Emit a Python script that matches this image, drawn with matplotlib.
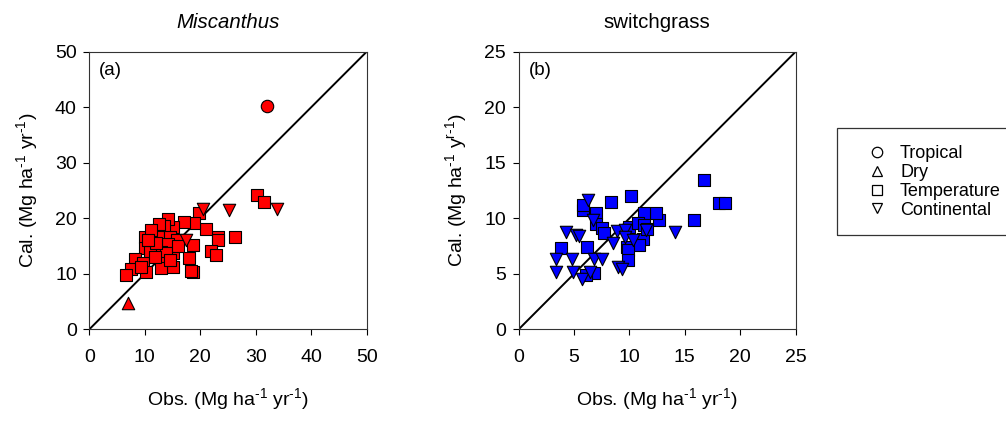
import matplotlib.pyplot as plt
from matplotlib.lines import Line2D
from matplotlib.patches import Rectangle

plt.rcParams['font.family'] = ['Liberation Sans', 'DejaVu Sans']
plt.rcParams['mathtext.fontset'] = 'custom'
plt.rcParams['mathtext.rm'] = 'Liberation Sans'
plt.rcParams['mathtext.it'] = 'Liberation Sans:italic'
plt.rcParams['mathtext.default'] = 'regular'

# Miscanthus (a)
mis_temp_obs = [30.3, 31.4, 19.8, 26.3, 23.2, 23.2, 21.9, 22.8, 21.0, 18.7, 18.0, 18.6, 18.9, 17.1, 15.1, 14.1,
                13.5, 12.6, 10.0, 12.4, 14.5, 15.8, 10.0, 11.5, 13.9, 14.2, 13.0, 10.9, 15.1, 13.8, 8.2, 9.7,
                13.3, 15.1, 13.0, 10.3, 7.6, 6.6, 18.4, 11.2, 11.8, 9.3, 12.0, 16.0, 14.6, 10.5]
mis_temp_cal = [24.1, 22.9, 20.9, 16.7, 16.7, 16.0, 14.1, 13.3, 18.0, 15.1, 12.8, 10.4, 19.1, 19.3, 18.5, 19.8,
                18.6, 19.0, 16.7, 16.7, 16.7, 16.1, 14.6, 15.2, 14.9, 15.3, 14.0, 14.0, 13.7, 13.7, 12.6, 11.9,
                12.0, 11.3, 11.0, 10.4, 10.8, 9.8, 10.5, 17.9, 13.1, 11.3, 15.5, 15.0, 12.5, 16.0]
mis_cont_obs = [20.5, 25.1, 33.9, 17.4]
mis_cont_cal = [21.6, 21.5, 21.6, 16.1]
mis_trop_obs = [32.0]
mis_trop_cal = [40.2]
mis_dry_obs = [7.0]
mis_dry_cal = [4.7]

# switchgrass (b)
sw_temp_obs = [16.7, 18.1, 18.6, 15.8, 12.7, 12.4, 11.3, 10.1, 8.3, 5.8, 5.8, 6.95, 7.0, 7.5, 7.7, 10.0,
               10.8, 11.3, 11.2, 10.9, 9.75, 9.9, 9.9, 6.2, 3.8, 6.8, 6.1, 11.6]
sw_temp_cal = [13.45, 11.35, 11.35, 9.85, 9.8, 10.45, 10.45, 12.0, 11.5, 10.75, 11.2, 10.45, 9.5, 9.1, 8.65, 9.25,
               9.55, 9.4, 8.1, 7.6, 7.45, 7.1, 6.25, 7.4, 7.3, 5.05, 4.85, 9.0]
sw_cont_obs = [14.1, 6.3, 6.7, 4.3, 5.2, 5.4, 8.5, 8.9, 9.6, 9.6, 10.35, 11.5, 9.0, 9.35, 3.4, 4.8,
               6.8, 7.5, 3.35, 4.9, 5.7, 6.4]
sw_cont_cal = [8.8, 11.6, 9.85, 8.8, 8.5, 8.4, 7.75, 8.85, 8.95, 8.3, 8.05, 8.9, 5.65, 5.4, 6.35, 6.35,
               6.35, 6.35, 5.2, 5.15, 4.5, 5.2]

legend_labels = ['Tropical', 'Dry', 'Temperature', 'Continental']
legend_markers = ['o', '^', 's', 'v']

fig = plt.figure(figsize=(10.06, 4.21), dpi=100)
ax1 = fig.add_axes([0.0888, 0.2178, 0.2757, 0.6594])
ax2 = fig.add_axes([0.5156, 0.2178, 0.2753, 0.6594])


def style_axis(ax, lim, step, title, italic, tag, ylab):
    ax.plot([0, lim], [0, lim], color='k', lw=1.4, zorder=1)
    ax.set_xlim(0, lim)
    ax.set_ylim(0, lim)
    ticks = list(range(0, lim + 1, step))
    ax.set_xticks(ticks)
    ax.set_yticks(ticks)
    ax.tick_params(axis='x', direction='out', length=4, width=0.8, labelsize=14, pad=10)
    ax.tick_params(axis='y', direction='out', length=4, width=0.8, labelsize=14, pad=5)
    for sp in ax.spines.values():
        sp.set_linewidth(0.8)
        sp.set_color('#333333')
    ax.set_title(title, fontsize=14.7, style='italic' if italic else 'normal', pad=17)
    ax.text(0.035, 0.964, tag, transform=ax.transAxes, fontsize=13.5, va='top', ha='left')
    ax.set_xlabel(r'Obs. (Mg ha$^{\text{-1}}$ yr$^{\text{-1}}$)', fontsize=14, labelpad=15)
    ax.set_ylabel(ylab, fontsize=14, labelpad=11)


style_axis(ax1, 50, 10, 'Miscanthus', True, '(a)', r'Cal. (Mg ha$^{\text{-1}}$ yr$^{\text{-1}}$)')
style_axis(ax2, 25, 5, 'switchgrass', False, '(b)', r'Cal. (Mg ha$^{\text{-1}}$ y$^{\text{r-1}}$)')

red = '#FF0000'
blue = '#0000FF'
ax1.scatter(mis_temp_obs, mis_temp_cal, marker='s', s=70, c=red, edgecolors='k', linewidths=0.8, zorder=3)
ax1.scatter(mis_cont_obs, mis_cont_cal, marker='v', s=80, c=red, edgecolors='k', linewidths=0.8, zorder=4)
ax1.scatter(mis_trop_obs, mis_trop_cal, marker='o', s=80, c=red, edgecolors='k', linewidths=0.8, zorder=4)
ax1.scatter(mis_dry_obs, mis_dry_cal, marker='^', s=80, c=red, edgecolors='k', linewidths=0.8, zorder=4)

ax2.scatter(sw_temp_obs, sw_temp_cal, marker='s', s=70, c=blue, edgecolors='k', linewidths=0.8, zorder=3)
ax2.scatter(sw_cont_obs, sw_cont_cal, marker='v', s=80, c=blue, edgecolors='k', linewidths=0.8, zorder=4)

# legend with hollow markers, frame runs off the right edge
handles = [Line2D([], [], ls='none', marker=m, ms=7.5, mfc='none', mec='k', mew=0.9) for m in legend_markers]
fig.legend(handles, legend_labels, loc='upper left', bbox_to_anchor=(0.857, 0.672), frameon=False,
           fontsize=13, handlelength=0.8, handletextpad=0.9, labelspacing=0.1, borderaxespad=0)
fig.patches.append(Rectangle((0.8317, 0.4418), 0.2, 0.254, transform=fig.transFigure,
                             fill=False, ec='#333333', lw=0.9))

fig.savefig('out.png', dpi=100)
